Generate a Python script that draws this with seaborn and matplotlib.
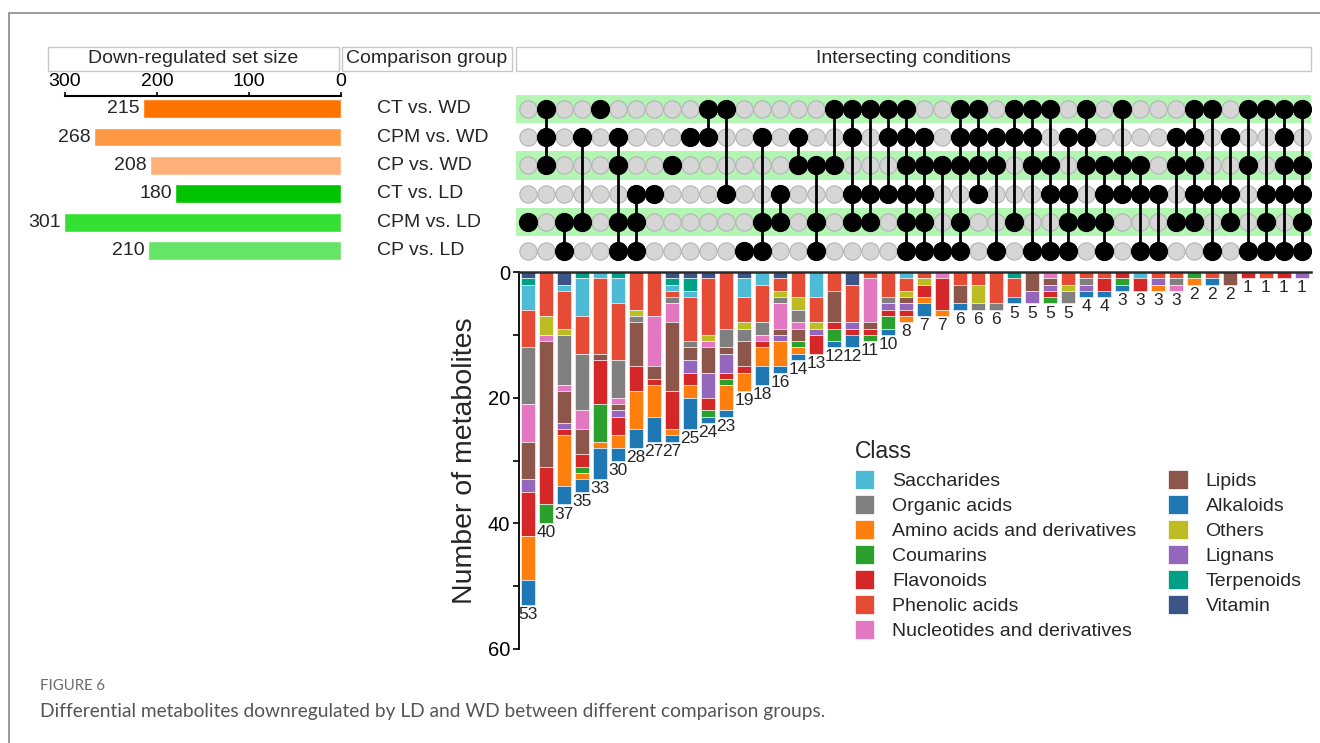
import numpy as np
import matplotlib
matplotlib.use("Agg")
import matplotlib.pyplot as plt
from matplotlib.patches import Rectangle, Patch
from matplotlib.lines import Line2D
import seaborn as sns

# ---------------- data ----------------
comparisons = ["CT vs. WD", "CPM vs. WD", "CP vs. WD", "CT vs. LD", "CPM vs. LD", "CP vs. LD"]
set_sizes = [215, 268, 208, 180, 301, 210]
set_colors = ["#ff7300", "#ff9843", "#ffb078", "#00c400", "#35e035", "#66e466"]

# member rows (index into comparisons) of each intersection column
intersections = [
    [4], [0, 1, 2], [4, 5], [1, 4], [0], [1, 2, 4, 5], [3, 4, 5], [3], [2], [1],
    [0, 1], [0, 3], [5], [1, 4, 5], [3, 4], [1, 2], [2, 4, 5], [0, 2], [0, 1, 3, 4], [0, 3, 4],
    [0, 1, 3], [0, 1, 2, 3, 4, 5], [1, 2, 3, 4, 5], [2, 5], [0, 1, 2, 4, 5], [0, 1, 2, 3], [1, 2, 5],
    [0, 1, 4], [0, 1, 2, 5], [0, 2, 3, 5], [1, 3, 4, 5], [0, 1, 2, 4], [2, 3, 4, 5], [0, 2, 3],
    [2, 3, 5], [3, 5], [1, 2, 4], [0, 1, 2, 3, 4], [0, 3, 5], [1, 3, 4], [0, 2, 5], [0, 3, 4, 5],
    [0, 1, 2, 3, 5], [0, 2, 3, 4, 5],
]

# metabolite counts per class in each intersection column
vitamin      = [1,0,2,0,0,0,0,0,1,1, 1,0,1,0,1,0,0,0,2,0, 0,0,0,0,0,0,0,0,0,0, 0,0,0,0,0,0,0,0,0,0, 0,0,0,0]
terpenoids   = [1,0,0,1,0,1,0,0,1,2, 0,0,0,0,0,0,0,0,0,0, 0,0,0,0,0,0,0,1,0,0, 0,0,0,0,0,0,0,0,0,0, 0,0,0,0]
saccharides  = [4,0,1,6,1,4,0,0,1,1, 0,0,3,2,0,0,4,0,0,0, 0,1,0,0,0,0,0,0,0,0, 0,0,0,0,1,0,0,0,0,0, 0,0,0,0]
phenolic     = [6,7,6,6,12,9,6,7,1,7, 9,9,4,6,2,4,4,3,6,1, 4,2,1,0,2,2,5,3,0,0, 2,1,1,0,0,1,1,0,1,0, 0,1,0,0]
others       = [0,3,1,0,0,0,1,0,0,0, 1,0,1,0,1,2,1,0,0,0, 0,1,1,0,0,3,0,0,0,0, 1,0,0,0,0,0,0,0,0,0, 0,0,0,0]
organic      = [9,0,8,9,0,6,1,0,1,1, 0,3,2,2,1,2,0,0,0,0, 1,0,0,0,0,1,1,0,0,0, 2,1,0,0,0,0,1,0,0,0, 0,0,0,0]
nucleotides  = [6,1,1,3,0,1,0,8,3,0, 1,0,0,1,4,1,0,0,0,7, 0,0,0,1,0,0,0,0,0,1, 0,0,0,0,0,0,1,0,0,0, 0,0,0,0]
lipids       = [6,20,5,4,1,1,7,2,11,2, 4,1,4,0,1,2,0,5,0,1, 0,1,0,0,3,0,0,0,3,1, 0,0,0,0,0,0,0,0,0,2, 0,0,0,0]
lignans      = [2,0,1,0,0,1,0,0,0,2, 4,3,0,0,1,0,1,0,1,0, 1,1,0,0,0,0,0,0,2,1, 0,1,0,0,0,1,0,0,0,0, 0,0,0,1]
flavonoids   = [7,6,1,2,7,3,4,1,6,2, 2,1,1,1,0,0,3,1,1,1, 1,1,2,5,0,0,0,0,0,1, 0,0,2,1,2,0,0,0,0,0, 1,0,1,0]
coumarins    = [0,3,0,1,6,0,0,0,0,0, 1,1,0,0,0,1,0,2,0,1, 2,0,0,0,0,0,0,0,0,1, 0,0,0,1,0,0,0,1,0,0, 0,0,0,0]
amino_acids  = [7,0,8,1,1,2,6,5,1,2, 0,4,3,3,4,1,0,0,0,0, 0,1,1,1,0,0,0,0,0,0, 0,0,0,0,0,1,0,1,0,0, 0,0,0,0]
alkaloids    = [4,0,3,2,5,2,3,4,1,5, 1,1,0,3,1,1,0,1,2,0, 1,0,2,0,1,0,0,1,0,0, 0,1,1,1,0,0,0,0,1,0, 0,0,0,0]

class_counts = {
    "Saccharides": saccharides,
    "Organic acids": organic,
    "Amino acids and derivatives": amino_acids,
    "Coumarins": coumarins,
    "Flavonoids": flavonoids,
    "Phenolic acids": phenolic,
    "Nucleotides and derivatives": nucleotides,
    "Lipids": lipids,
    "Alkaloids": alkaloids,
    "Others": others,
    "Lignans": lignans,
    "Terpenoids": terpenoids,
    "Vitamin": vitamin,
}
class_colors = {
    "Saccharides": "#4dbbd5",
    "Organic acids": "#808080",
    "Amino acids and derivatives": "#ff7f0e",
    "Coumarins": "#2ca02c",
    "Flavonoids": "#d62728",
    "Phenolic acids": "#e64b35",
    "Nucleotides and derivatives": "#e377c2",
    "Lipids": "#8c564b",
    "Alkaloids": "#1f77b4",
    "Others": "#bcbd22",
    "Lignans": "#9467bd",
    "Terpenoids": "#00a087",
    "Vitamin": "#3c5488",
}
# stacking order from the baseline outward
stack_order = ["Vitamin", "Terpenoids", "Saccharides", "Phenolic acids", "Others",
               "Organic acids", "Nucleotides and derivatives", "Lipids", "Lignans",
               "Flavonoids", "Coumarins", "Amino acids and derivatives", "Alkaloids"]

# ---------------- style ----------------
sns.set_theme(style="white")
plt.rcParams["font.family"] = ["Liberation Sans", "DejaVu Sans"]
plt.rcParams["axes.unicode_minus"] = False

W, H = 1320, 743
fig = plt.figure(figsize=(W / 100, H / 100), dpi=100)


def box(left, top, right, bottom):
    return [left / W, 1 - bottom / H, (right - left) / W, (bottom - top) / H]


def fig_rect(left, top, right, bottom, **kw):
    fig.patches.append(Rectangle((left / W, 1 - bottom / H), (right - left) / W,
                                 (bottom - top) / H, transform=fig.transFigure, **kw))


FS = 14
ROW_TOP, ROW_BOTTOM = 94.5, 264.7   # pixel extent of rows -0.5 .. 5.5

# outer frame lines
fig.add_artist(Line2D([9 / W, 1.0], [1 - 13 / H, 1 - 13 / H], transform=fig.transFigure,
                      color="#8a8a8a", lw=1.2))
fig.add_artist(Line2D([9 / W, 9 / W], [1 - 13 / H, 0.0], transform=fig.transFigure,
                      color="#8a8a8a", lw=1.2))

# header boxes
headers = [(48, 339, "Down-regulated set size"), (342, 512, "Comparison group"),
           (516, 1311, "Intersecting conditions")]
for l, r, txt in headers:
    fig_rect(l, 46.5, r, 71, facecolor="white", edgecolor="#c8c8c8", lw=1)
    fig.text((l + r) / 2 / W, 1 - 58.5 / H, txt, ha="center", va="center", fontsize=FS)

# ---------------- set sizes ----------------
ax_set = fig.add_axes(box(48, 96, 341, ROW_BOTTOM))
sns.barplot(x=set_sizes, y=comparisons, hue=comparisons, palette=set_colors, legend=False,
            orient="h", width=0.66, saturation=1, ax=ax_set)
ax_set.set_xlim(318.5, 0)
ax_set.set_ylim(5.5, -0.5 + (96 - ROW_TOP) / ((ROW_BOTTOM - ROW_TOP) / 6))
ax_set.set_yticks([])
ax_set.set_ylabel("")
ax_set.set_xlabel("")
ax_set.xaxis.tick_top()
ax_set.set_xticks([0, 100, 200, 300])
ax_set.tick_params(axis="x", top=True, direction="out", length=3, width=1.2, pad=1.0,
                   labelsize=FS, colors="black")
for s in ["bottom", "left", "right"]:
    ax_set.spines[s].set_visible(False)
ax_set.spines["top"].set_bounds(0, 300)
ax_set.spines["top"].set_color("black")
ax_set.spines["top"].set_linewidth(1.5)
ax_set.patch.set_alpha(0)
for i, v in enumerate(set_sizes):
    ax_set.annotate(f"{v}", (v, i), xytext=(-2.5, 0), textcoords="offset points",
                    ha="right", va="center", fontsize=FS)

# comparison group labels
row_px = lambda i: ROW_TOP + (i + 0.5) * (ROW_BOTTOM - ROW_TOP) / 6
for i, name in enumerate(comparisons):
    fig.text(377 / W, 1 - row_px(i) / H, name, ha="left", va="center", fontsize=FS)

# ---------------- intersection matrix ----------------
n_cols = len(intersections)
ax_mat = fig.add_axes(box(516, ROW_TOP, 1311, ROW_BOTTOM))
ax_mat.set_xlim(-0.667, 43.5)
ax_mat.set_ylim(5.5, -0.5)
for r in (0, 2, 4):
    ax_mat.axhspan(r - 0.5, r + 0.5, color="#b3f6b3", lw=0, zorder=0)
gx, gy = np.meshgrid(np.arange(n_cols), np.arange(len(comparisons)))
ax_mat.scatter(gx.ravel(), gy.ravel(), s=155, c="#d6d6d6", edgecolors="#b4b4b4",
               linewidths=0.8, zorder=2)
for i, rows in enumerate(intersections):
    if len(rows) > 1:
        ax_mat.vlines(i, min(rows), max(rows), color="black", lw=2, zorder=3)
    ax_mat.scatter([i] * len(rows), rows, s=165, c="black", zorder=4)
ax_mat.axis("off")

# ---------------- stacked intersection bars ----------------
ax_bar = fig.add_axes(box(519, 272, 1311, 649))
xs = np.arange(n_cols)
bottom = np.zeros(n_cols)
for cls in stack_order:
    vals = np.asarray(class_counts[cls], dtype=float)
    m = vals > 0
    ax_bar.bar(xs[m], vals[m], bottom=bottom[m], width=0.74, color=class_colors[cls],
               edgecolor="white", linewidth=0.4, zorder=2)
    bottom += vals
totals = bottom
for i, t in enumerate(totals):
    ax_bar.annotate(f"{int(t)}", (i, t), xytext=(0, -1.5), textcoords="offset points",
                    ha="center", va="top", fontsize=12.5)
ax_bar.set_xlim(-0.5, 43.5)
ax_bar.set_ylim(60, 0)
ax_bar.set_xticks([])
ax_bar.set_yticks([0, 20, 40, 60])
ax_bar.set_yticks([10, 30, 50], minor=True)
ax_bar.tick_params(axis="y", which="both", left=True, direction="out", length=4.5,
                   width=1.2, labelsize=14.5, colors="black", pad=2)
ax_bar.set_ylabel("Number of metabolites", fontsize=20.5, labelpad=7)
for s in ["bottom", "right"]:
    ax_bar.spines[s].set_visible(False)
ax_bar.spines["left"].set_color("black")
ax_bar.spines["left"].set_linewidth(1.3)
ax_bar.spines["top"].set_color("#2a2a2a")
ax_bar.spines["top"].set_linewidth(1.8)
ax_bar.patch.set_alpha(0)

handles = [Patch(facecolor=class_colors[c], edgecolor="white", lw=0.5, label=c)
           for c in class_counts]
leg = ax_bar.legend(handles=handles, loc="upper left", bbox_to_anchor=(855 / W, 1 - 440 / H),
                    bbox_transform=fig.transFigure, ncol=2, frameon=False, fontsize=FS,
                    title="Class", title_fontsize=16.5, alignment="left",
                    handlelength=0.98, handleheight=1.13, handletextpad=0.93,
                    columnspacing=1.65, labelspacing=0.25, borderpad=0, borderaxespad=0)
leg._legend_box.sep = 5

# ---------------- caption ----------------
fig.text(40 / W, 1 - 686 / H, "FIGURE 6", fontsize=10.7, color="#6b6b6b", va="center",
         family=["Lato", "DejaVu Sans"])
fig.text(40 / W, 1 - 712 / H,
         "Differential metabolites downregulated by LD and WD between different comparison groups.",
         fontsize=13.8, color="#555555", va="center", family=["Lato", "DejaVu Sans"])

fig.savefig("out.png", dpi=100)
